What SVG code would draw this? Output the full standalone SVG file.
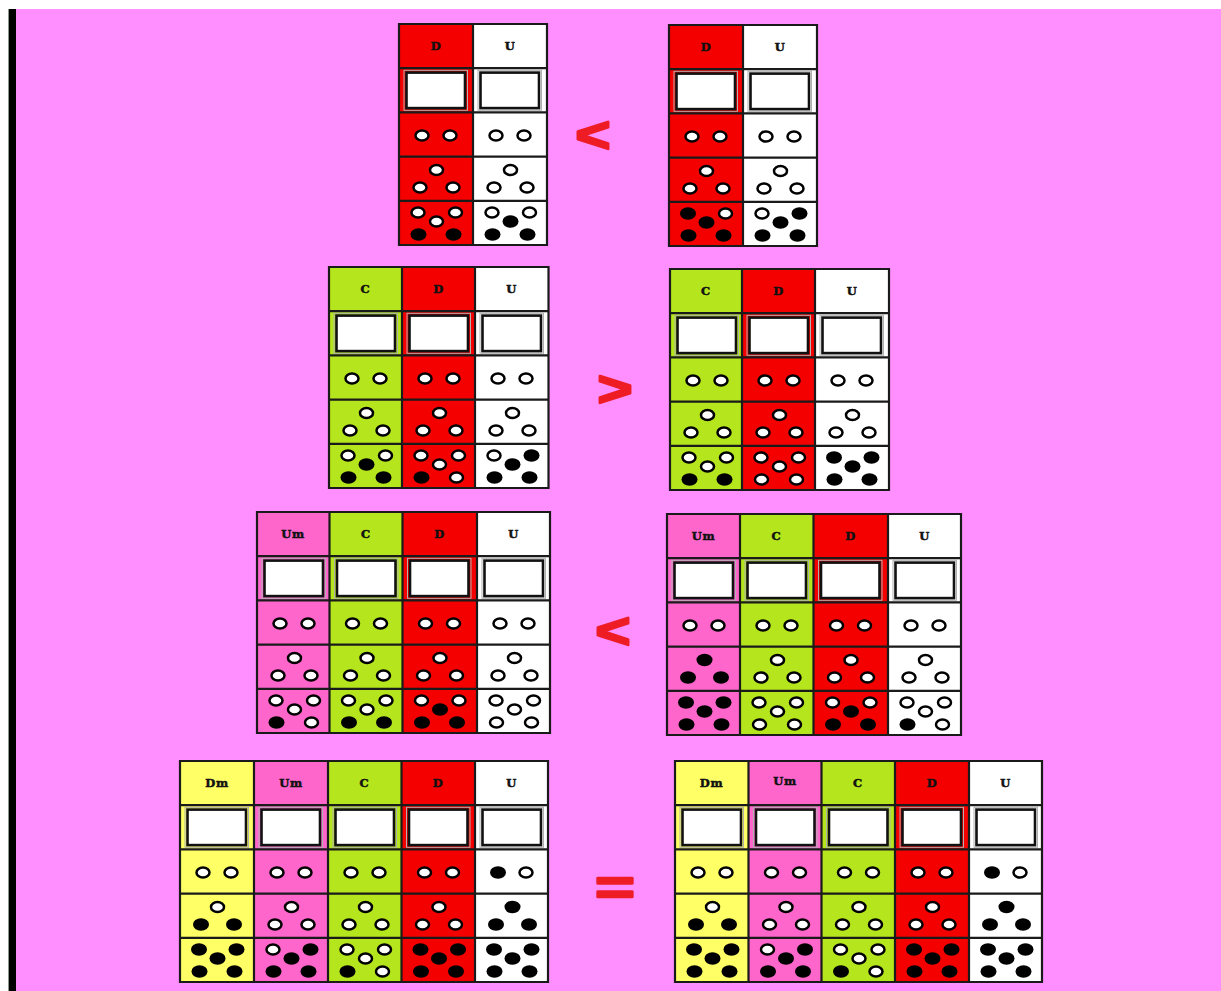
<svg xmlns="http://www.w3.org/2000/svg" xmlns:xlink="http://www.w3.org/1999/xlink" width="1221" height="991" viewBox="0 0 1221 991">
<style>
.red{fill:#F50000}.wht{fill:#FFFFFF}.grn{fill:#B5E61D}.pnk{fill:#FF66CC}.yel{fill:#FFFF66}
.h{font-family:"DejaVu Serif","Liberation Serif",serif;font-weight:bold;font-size:11.5px;text-anchor:middle;fill:#111;stroke:#111;stroke-width:0.5;letter-spacing:0.6px}
.grid{fill:none;stroke:#1a1a1a;stroke-width:2.2}
.sym{font-family:"Liberation Sans",Arial,sans-serif;font-weight:bold;fill:#EE1C24;stroke:#EE1C24;stroke-width:2.6;stroke-linejoin:round;text-anchor:middle}
</style>
<defs>
<ellipse id="w" rx="6.5" ry="5.1" fill="#fff" stroke="#000" stroke-width="2.5"/>
<ellipse id="b" rx="8" ry="6.2" fill="#000"/>
<g id="box"><rect x="5" y="46.3" width="63.5" height="40" fill="none" stroke="#b0b0b0" stroke-width="1"/><rect x="7.5" y="48.6" width="58.5" height="35.5" fill="#fff" stroke="#111" stroke-width="2.6"/></g>
<g id="r3ww"><use href="#w" x="23" y="111.5"/><use href="#w" x="51" y="111.5"/></g>
<g id="r3bw"><use href="#b" x="23" y="111.5"/><use href="#w" x="51" y="111.5"/></g>
<g id="r4www"><use href="#w" x="37.5" y="146"/><use href="#w" x="21" y="163.5"/><use href="#w" x="54" y="163.5"/></g>
<g id="r4wbb"><use href="#w" x="37.5" y="146"/><use href="#b" x="21" y="163.5"/><use href="#b" x="54" y="163.5"/></g>
<g id="r4bbb"><use href="#b" x="37.5" y="146"/><use href="#b" x="21" y="163.5"/><use href="#b" x="54" y="163.5"/></g>
<g id="r5wwwbb"><use href="#w" x="19" y="188.5"/><use href="#w" x="56.5" y="188.5"/><use href="#w" x="37.5" y="197.5"/><use href="#b" x="19.5" y="210.5"/><use href="#b" x="54.5" y="210.5"/></g>
<g id="r5wwbbb"><use href="#w" x="19" y="188.5"/><use href="#w" x="56.5" y="188.5"/><use href="#b" x="37.5" y="197.5"/><use href="#b" x="19.5" y="210.5"/><use href="#b" x="54.5" y="210.5"/></g>
<g id="r5bwbbb"><use href="#b" x="19" y="188.5"/><use href="#w" x="56.5" y="188.5"/><use href="#b" x="37.5" y="197.5"/><use href="#b" x="19.5" y="210.5"/><use href="#b" x="54.5" y="210.5"/></g>
<g id="r5wbbbb"><use href="#w" x="19" y="188.5"/><use href="#b" x="56.5" y="188.5"/><use href="#b" x="37.5" y="197.5"/><use href="#b" x="19.5" y="210.5"/><use href="#b" x="54.5" y="210.5"/></g>
<g id="r5wwwbw"><use href="#w" x="19" y="188.5"/><use href="#w" x="56.5" y="188.5"/><use href="#w" x="37.5" y="197.5"/><use href="#b" x="19.5" y="210.5"/><use href="#w" x="54.5" y="210.5"/></g>
<g id="r5wwwww"><use href="#w" x="19" y="188.5"/><use href="#w" x="56.5" y="188.5"/><use href="#w" x="37.5" y="197.5"/><use href="#w" x="19.5" y="210.5"/><use href="#w" x="54.5" y="210.5"/></g>
<g id="r5bbbbb"><use href="#b" x="19" y="188.5"/><use href="#b" x="56.5" y="188.5"/><use href="#b" x="37.5" y="197.5"/><use href="#b" x="19.5" y="210.5"/><use href="#b" x="54.5" y="210.5"/></g>
</defs>

<g id="background">
<rect width="1221" height="991" fill="#FF8EFF"/>
<rect width="1221" height="9" fill="#fff"/>
<rect y="9" width="8" height="982" fill="#fff"/>
<rect x="8" y="9" width="1" height="982" fill="#8a9a8a"/>
<rect x="9" y="9" width="7" height="982" fill="#000"/>
</g>

<g id="connectors"></g>

<g id="table1-left">
<g transform="translate(399,24)"><rect class="red" width="74" height="221"/><text class="h" x="37" y="26">D</text><use href="#box"/><use href="#r3ww"/><use href="#r4www"/><use href="#r5wwwbb"/></g>
<g transform="translate(473,24)"><rect class="wht" width="74" height="221"/><text class="h" x="37" y="26">U</text><use href="#box"/><use href="#r3ww"/><use href="#r4www"/><use href="#r5wwbbb"/></g>
<path class="grid" d="M399,24H547V245H399Z M473,24V245 M399,68.2H547 M399,112.4H547 M399,156.6H547 M399,200.8H547"/>
</g>

<g id="table1-right">
<g transform="translate(669,25)"><rect class="red" width="74" height="221"/><text class="h" x="37" y="26">D</text><use href="#box"/><use href="#r3ww"/><use href="#r4www"/><use href="#r5bwbbb"/></g>
<g transform="translate(743,25)"><rect class="wht" width="74" height="221"/><text class="h" x="37" y="26">U</text><use href="#box"/><use href="#r3ww"/><use href="#r4www"/><use href="#r5wbbbb"/></g>
<path class="grid" d="M669,25H817V246H669Z M743,25V246 M669,69.2H817 M669,113.4H817 M669,157.6H817 M669,201.8H817"/>
</g>

<g id="table2-left">
<g transform="translate(329,267)"><rect class="grn" width="73" height="221"/><text class="h" x="36.5" y="26">C</text><use href="#box"/><use href="#r3ww"/><use href="#r4www"/><use href="#r5wwbbb"/></g>
<g transform="translate(402,267)"><rect class="red" width="73" height="221"/><text class="h" x="36.5" y="26">D</text><use href="#box"/><use href="#r3ww"/><use href="#r4www"/><use href="#r5wwwbw"/></g>
<g transform="translate(475,267)"><rect class="wht" width="73.5" height="221"/><text class="h" x="36.5" y="26">U</text><use href="#box"/><use href="#r3ww"/><use href="#r4www"/><use href="#r5wbbbb"/></g>
<path class="grid" d="M329,267H548.5V488H329Z M402,267V488 M475,267V488 M329,311.2H548.5 M329,355.4H548.5 M329,399.6H548.5 M329,443.8H548.5"/>
</g>

<g id="table2-right">
<g transform="translate(670,269)"><rect class="grn" width="72" height="221"/><text class="h" x="36" y="26">C</text><use href="#box"/><use href="#r3ww"/><use href="#r4www"/><use href="#r5wwwbb"/></g>
<g transform="translate(742,269)"><rect class="red" width="73" height="221"/><text class="h" x="36.5" y="26">D</text><use href="#box"/><use href="#r3ww"/><use href="#r4www"/><use href="#r5wwwww"/></g>
<g transform="translate(815,269)"><rect class="wht" width="74" height="221"/><text class="h" x="37" y="26">U</text><use href="#box"/><use href="#r3ww"/><use href="#r4www"/><use href="#r5bbbbb"/></g>
<path class="grid" d="M670,269H889V490H670Z M742,269V490 M815,269V490 M670,313.2H889 M670,357.4H889 M670,401.6H889 M670,445.8H889"/>
</g>

<g id="table3-left">
<g transform="translate(257,512)"><rect class="pnk" width="72.5" height="221"/><text class="h" x="36" y="26">Um</text><use href="#box"/><use href="#r3ww"/><use href="#r4www"/><use href="#r5wwwbw"/></g>
<g transform="translate(329.5,512)"><rect class="grn" width="73" height="221"/><text class="h" x="36.5" y="26">C</text><use href="#box"/><use href="#r3ww"/><use href="#r4www"/><use href="#r5wwwbb"/></g>
<g transform="translate(402.5,512)"><rect class="red" width="74.5" height="221"/><text class="h" x="37" y="26">D</text><use href="#box"/><use href="#r3ww"/><use href="#r4www"/><use href="#r5wwbbb"/></g>
<g transform="translate(477,512)"><rect class="wht" width="73" height="221"/><text class="h" x="36.5" y="26">U</text><use href="#box"/><use href="#r3ww"/><use href="#r4www"/><use href="#r5wwwww"/></g>
<path class="grid" d="M257,512H550V733H257Z M329.5,512V733 M402.5,512V733 M477,512V733 M257,556.2H550 M257,600.4H550 M257,644.6H550 M257,688.8H550"/>
</g>

<g id="table3-right">
<g transform="translate(667,514)"><rect class="pnk" width="73" height="221"/><text class="h" x="36.5" y="26">Um</text><use href="#box"/><use href="#r3ww"/><use href="#r4bbb"/><use href="#r5bbbbb"/></g>
<g transform="translate(740,514)"><rect class="grn" width="73.5" height="221"/><text class="h" x="36.5" y="26">C</text><use href="#box"/><use href="#r3ww"/><use href="#r4www"/><use href="#r5wwwww"/></g>
<g transform="translate(813.5,514)"><rect class="red" width="74.5" height="221"/><text class="h" x="37" y="26">D</text><use href="#box"/><use href="#r3ww"/><use href="#r4www"/><use href="#r5wwbbb"/></g>
<g transform="translate(888,514)"><rect class="wht" width="73" height="221"/><text class="h" x="36.5" y="26">U</text><use href="#box"/><use href="#r3ww"/><use href="#r4www"/><use href="#r5wwwbw"/></g>
<path class="grid" d="M667,514H961V735H667Z M740,514V735 M813.5,514V735 M888,514V735 M667,558.2H961 M667,602.4H961 M667,646.6H961 M667,690.8H961"/>
</g>

<g id="table4-left">
<g transform="translate(180,761)"><rect class="yel" width="74" height="221"/><text class="h" x="37" y="26">Dm</text><use href="#box"/><use href="#r3ww"/><use href="#r4wbb"/><use href="#r5bbbbb"/></g>
<g transform="translate(254,761)"><rect class="pnk" width="74" height="221"/><text class="h" x="37" y="26">Um</text><use href="#box"/><use href="#r3ww"/><use href="#r4www"/><use href="#r5wbbbb"/></g>
<g transform="translate(328,761)"><rect class="grn" width="73.5" height="221"/><text class="h" x="36.5" y="26">C</text><use href="#box"/><use href="#r3ww"/><use href="#r4www"/><use href="#r5wwwbw"/></g>
<g transform="translate(401.5,761)"><rect class="red" width="73.5" height="221"/><text class="h" x="36.5" y="26">D</text><use href="#box"/><use href="#r3ww"/><use href="#r4www"/><use href="#r5bbbbb"/></g>
<g transform="translate(475,761)"><rect class="wht" width="73" height="221"/><text class="h" x="36.5" y="26">U</text><use href="#box"/><use href="#r3bw"/><use href="#r4bbb"/><use href="#r5bbbbb"/></g>
<path class="grid" d="M180,761H548V982H180Z M254,761V982 M328,761V982 M401.5,761V982 M475,761V982 M180,805.2H548 M180,849.4H548 M180,893.6H548 M180,937.8H548"/>
</g>

<g id="table4-right">
<g transform="translate(675,761)"><rect class="yel" width="73.5" height="221"/><text class="h" x="36.5" y="26">Dm</text><use href="#box"/><use href="#r3ww"/><use href="#r4wbb"/><use href="#r5bbbbb"/></g>
<g transform="translate(748.5,761)"><rect class="pnk" width="73" height="221"/><text class="h" x="36.5" y="24">Um</text><use href="#box"/><use href="#r3ww"/><use href="#r4www"/><use href="#r5wbbbb"/></g>
<g transform="translate(821.5,761)"><rect class="grn" width="73.5" height="221"/><text class="h" x="36.5" y="26">C</text><use href="#box"/><use href="#r3ww"/><use href="#r4www"/><use href="#r5wwwbw"/></g>
<g transform="translate(895,761)"><rect class="red" width="74" height="221"/><text class="h" x="37" y="26">D</text><use href="#box"/><use href="#r3ww"/><use href="#r4www"/><use href="#r5bbbbb"/></g>
<g transform="translate(969,761)"><rect class="wht" width="73" height="221"/><text class="h" x="36.5" y="26">U</text><use href="#box"/><use href="#r3bw"/><use href="#r4bbb"/><use href="#r5bbbbb"/></g>
<path class="grid" d="M675,761H1042V982H675Z M748.5,761V982 M821.5,761V982 M895,761V982 M969,761V982 M675,805.2H1042 M675,849.4H1042 M675,893.6H1042 M675,937.8H1042"/>
</g>

<g id="comparisons">
<text class="sym" font-size="52" transform="translate(593,136) scale(1.15,0.95)" y="16.5">&lt;</text>
<text class="sym" font-size="52" transform="translate(615,390) scale(1.15,0.95)" y="16.5">&gt;</text>
<text class="sym" font-size="52" transform="translate(613,632) scale(1.15,0.95)" y="16.5">&lt;</text>
<text class="sym" font-size="50" transform="translate(615,888) scale(1.35,1)" y="16.5">=</text>
</g>
</svg>
